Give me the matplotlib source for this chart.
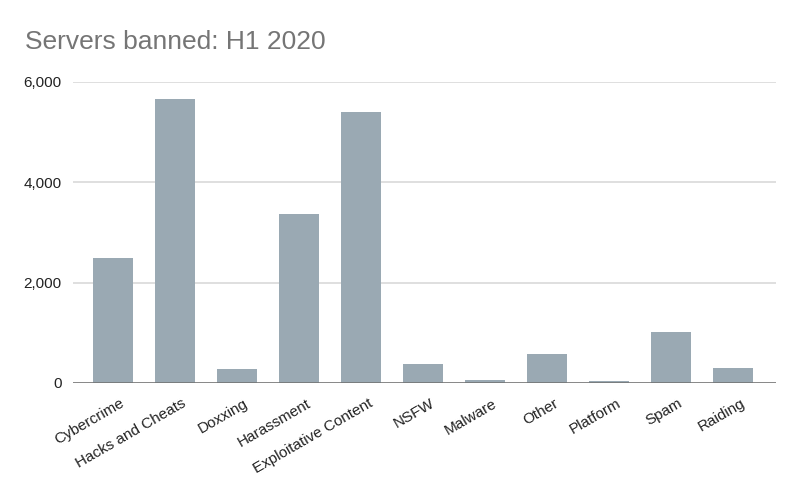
# -*- coding: utf-8 -*-

import matplotlib
matplotlib.use('Agg')
import matplotlib.pyplot as plt
import matplotlib.transforms as mtransforms
from matplotlib.ticker import FuncFormatter

categories = ['Cybercrime', 'Hacks and Cheats', 'Doxxing', 'Harassment',
              'Exploitative Content', 'NSFW', 'Malware', 'Other',
              'Platform', 'Spam', 'Raiding']
servers_banned = [2490, 5660, 270, 3360, 5400, 380, 60, 570, 40, 1020, 300]
y_ticks = [0, 2000, 4000, 6000]


def main():
    plt.rcParams['font.family'] = ['Liberation Sans', 'DejaVu Sans']

    fig = plt.figure(figsize=(8, 4.94), dpi=100)
    ax = fig.add_axes([0.091, 0.2247, 0.879, 0.6099])

    x = range(len(categories))
    ax.bar(x, servers_banned, width=0.645, color='#9aa9b3', zorder=3)

    ax.set_xlim(-0.645, len(categories) - 0.31)
    ax.set_ylim(0, 6000)
    ax.set_yticks(y_ticks)
    ax.yaxis.set_major_formatter(FuncFormatter(lambda v, p: '{:,.0f}'.format(v)))
    ax.grid(axis='y', color='#d9d9d9', linewidth=1.2, zorder=0)
    ax.axhline(0, color='#6f6f6f', linewidth=1.8, zorder=4)

    for side in ['top', 'right', 'left', 'bottom']:
        ax.spines[side].set_visible(False)
    ax.tick_params(axis='both', length=0, labelsize=11, labelcolor='#222222')
    ax.tick_params(axis='y', pad=8)

    ax.set_xticks(list(x))
    ax.set_xticklabels(categories, rotation=30, ha='right',
                       rotation_mode='anchor')
    offset = mtransforms.ScaledTranslation(5 / 72, -6 / 72, fig.dpi_scale_trans)
    for lbl in ax.get_xticklabels():
        lbl.set_transform(lbl.get_transform() + offset)

    fig.text(0.031, 0.9008, 'Servers banned: H1 2020', fontsize=19,
             color='#757575', ha='left', va='baseline')

    plt.savefig('out.png', dpi=100)
    plt.close()


if __name__ == '__main__':
    main()
